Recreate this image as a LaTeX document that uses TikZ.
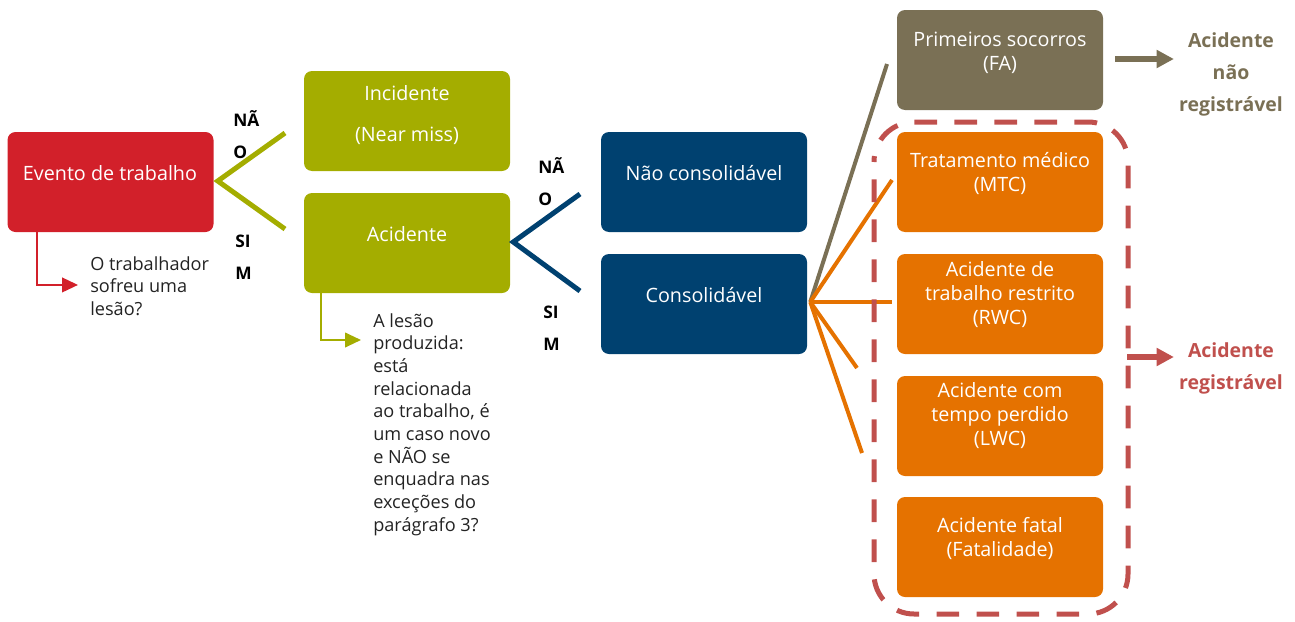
\documentclass[tikz,border=0pt]{standalone}
\usepackage{fontspec}
\setmainfont{Open Sans}
\usetikzlibrary{arrows.meta,calc}
\definecolor{cRed}{RGB}{210,32,42}
\definecolor{cGreen}{RGB}{164,173,0}
\definecolor{cBlue}{RGB}{0,65,112}
\definecolor{cOlive}{RGB}{122,112,85}
\definecolor{cOrange}{RGB}{229,114,0}
\definecolor{cDash}{RGB}{192,80,77}
\definecolor{cText}{RGB}{35,35,35}
\begin{document}
\begin{tikzpicture}[x=0.75pt,y=-0.75pt,
  box/.style={rounded corners=6pt, minimum width=154.5pt, minimum height=75pt, inner sep=0pt, fill=#1, draw=none},
  btxt/.style={text=white, align=center, font=\fontsize{14.8}{18}\selectfont, inner sep=0pt},
  stxt/.style={text=cText, align=left, font=\fontsize{13.6}{17}\selectfont, anchor=north west, inner sep=0pt},
  yn/.style={text=black, font=\bfseries\fontsize{13}{24}\selectfont, align=left, anchor=north west, inner sep=0pt},
  res/.style={font=\bfseries\fontsize{14.6}{24}\selectfont, align=center, inner sep=0pt},
  vline/.style={line width=3.75pt, #1},
  fan/.style={line width=3pt, #1},
  elbow/.style={line width=1.5pt, #1, -{Triangle[length=12pt,width=11pt]}},
  bigarrow/.style={line width=4.5pt, #1, -{Triangle[length=13pt,width=13pt]}}
]
\useasboundingbox (0,0) rectangle (1295,621);

% boxes
\node[box=cRed] (evt) at (110.5,182) {};
\node[box=cGreen] (inc) at (407,121) {};
\node[box=cGreen] (acc) at (407,243) {};
\node[box=cBlue] (nc) at (704,182) {};
\node[box=cBlue] (cons) at (704,304) {};
\node[box=cOlive] (fa) at (1000,60) {};
\node[box=cOrange] (mtc) at (1000,182) {};
\node[box=cOrange] (rwc) at (1000,304) {};
\node[box=cOrange] (lwc) at (1000,426) {};
\node[box=cOrange] (fat) at (1000,547) {};

% box texts
\node[btxt] (tevt) at (110,173) {Evento de trabalho};
\node[btxt] (tinc) at (407,115) {Incidente\\[13pt](Near miss)};
\node[btxt] (tacc) at (407,234) {Acidente};
\node[btxt] (tnc) at (704,173) {Não consolidável};
\node[btxt] (tcons) at (704,295) {Consolidável};
\node[btxt] (tfa) at (1000,53) {Primeiros socorros\\(FA)};
\node[btxt] (tmtc) at (1000,173) {Tratamento médico\\(MTC)};
\node[btxt] (trwc) at (1000,295) {Acidente de\\trabalho restrito\\(RWC)};
\node[btxt] (tlwc) at (1000,416) {Acidente com\\tempo perdido\\(LWC)};
\node[btxt] (tfat) at (1000,539) {Acidente fatal\\(Fatalidade)};

% green V
\coordinate (gv) at ($(evt.east)+(4,-1)$);
\coordinate (gvu) at (285,133);
\coordinate (gvd) at (285,229);
\draw[vline=cGreen] (gvu) -- (gv) -- (gvd);
\node[yn] (l1) at (233,110) {NÃ\\O};
\node[yn] (l2) at (235,235) {SI\\M};

% blue V
\coordinate (bv) at ($(acc.east)+(3,-1)$);
\coordinate (bvu) at (580,194);
\coordinate (bvd) at (580,291);
\draw[vline=cBlue] (bvu) -- (bv) -- (bvd);
\node[yn] (l3) at (538,157) {NÃ\\O};
\node[yn] (l4) at (543,306) {SI\\M};

% elbows and questions
\node[stxt] (q1) at (90,256) {O trabalhador\\sofreu uma\\lesão?};
\draw[elbow=cRed] ($(evt.south west)+(30,0)$) |- ($(q1.west)+(-12,-1)$);
\node[stxt] (q2) at (373,313) {A lesão\\produzida:\\está\\relacionada\\ao trabalho, é\\um caso novo\\e NÃO se\\enquadra nas\\exceções do\\parágrafo 3?};
\coordinate (q2a) at (361,340);
\draw[elbow=cGreen] ($(acc.south west)+(17,0)$) |- (q2a);

% fan from Consolidável
\coordinate (fv) at ($(cons.east)+(3,-2)$);
\coordinate (f1) at (887,64);
\coordinate (f2) at (892,180);
\coordinate (f3) at (892,302);
\coordinate (f4) at (857,368);
\coordinate (f5) at (862,453);
\draw[fan=cOlive] (fv) -- (f1);
\draw[fan=cOrange] (fv) -- (f2);
\draw[fan=cOrange] (fv) -- (f3);
\draw[fan=cOrange] (fv) -- (f4);
\draw[fan=cOrange] (fv) -- (f5);

% dashed group
\draw[cDash, line width=3.75pt, dash pattern=on 17pt off 13pt, dash phase=17pt, rounded corners=30pt] (874,122) rectangle (1128,614);
\coordinate (grp) at (1127,357);

% results
\node[res, text=cOlive] (rfa) at (1231,74) {Acidente\\não\\registrável};
\node[res, text=cDash] (rreg) at (1231,368) {Acidente\\registrável};
\draw[bigarrow=cOlive] ($(fa.east)+(12,-1)$) -- ($(rfa.west)+(-5,-15)$);
\draw[bigarrow=cDash] (grp) -- ($(rreg.west)+(-5,-11)$);
\end{tikzpicture}
\end{document}
